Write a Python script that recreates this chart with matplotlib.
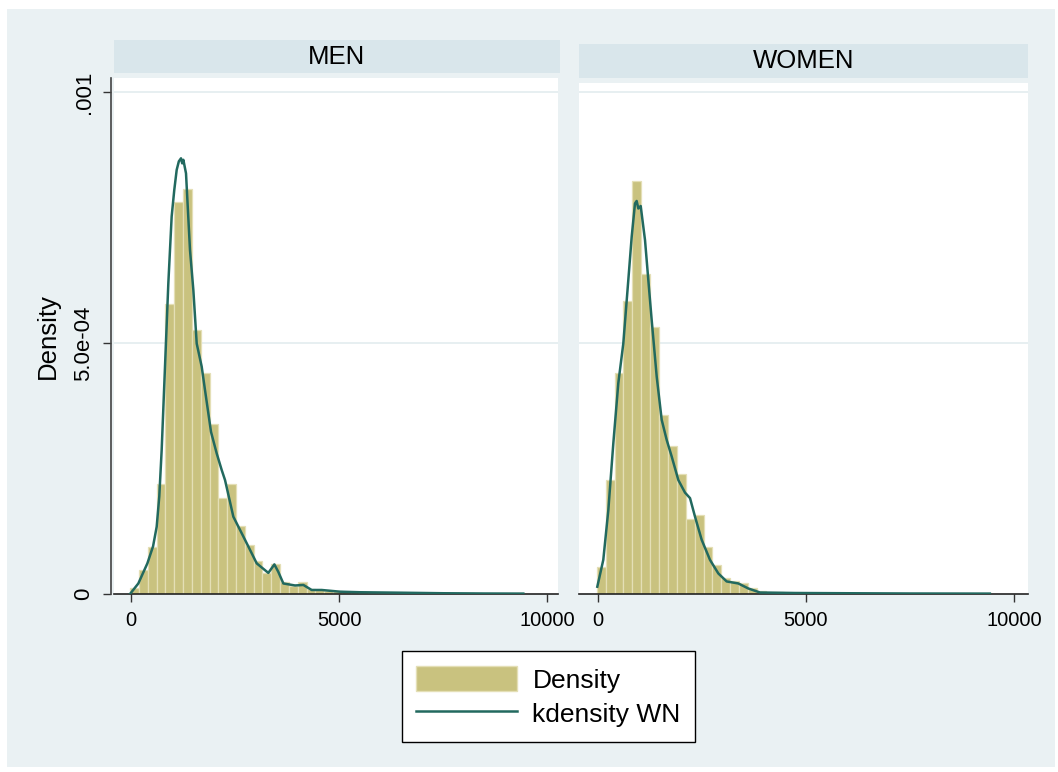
import matplotlib
matplotlib.use("Agg")
import matplotlib.pyplot as plt
from matplotlib.patches import Rectangle, Patch
from matplotlib.lines import Line2D
import numpy as np

plt.rcParams["font.family"] = ["Liberation Sans", "DejaVu Sans"]

# histogram bins
men_bin_start = -20
men_bin_width = 212
men_hist = [1.1e-5, 4.8e-5, 9.4e-5, 2.2e-4, 5.78e-4, 7.81e-4, 8.07e-4, 5.26e-4, 4.40e-4, 3.39e-4,
            1.92e-4, 2.20e-4, 1.35e-4, 9.7e-5, 6.6e-5, 4.1e-5, 6.0e-5, 2.3e-5, 1.5e-5, 2.3e-5,
            9e-6, 8e-6, 6e-6, 5e-6, 4e-6, 3e-6, 3e-6, 2e-6, 2e-6, 1e-6,
            1e-6, 1e-6, 0.5e-6, 1e-6, 0.5e-6, 1e-6, 1e-6, 0.5e-6, 1e-6, 0.5e-6,
            0.5e-6, 0.5e-6, 0.5e-6, 0.0, 0.5e-6]

women_bin_start = -30
women_bin_width = 214
women_hist = [5.44e-5, 2.27e-4, 4.40e-4, 5.84e-4, 8.23e-4, 6.37e-4, 5.31e-4, 3.57e-4, 2.95e-4, 2.40e-4,
              1.49e-4, 1.57e-4, 9.4e-5, 5.8e-5, 3.2e-5, 2.5e-5, 2.1e-5, 1.1e-5, 6e-6, 4e-6,
              3e-6, 2e-6, 2e-6, 1.5e-6, 1e-6, 1e-6, 0.5e-6, 0.5e-6, 1e-6, 0.5e-6,
              0.5e-6, 0.5e-6, 0.5e-6, 0.5e-6, 0.5e-6, 0.5e-6, 0.5e-6, 0.5e-6, 0.5e-6, 0.5e-6,
              0.5e-6, 0.5e-6, 0.5e-6, 0.5e-6, 0.0]

# kernel density curves
men_kde_x = [-24, 176, 393, 530, 617, 680, 737, 817, 897, 977, 1040, 1098, 1150, 1202, 1230, 1258,
             1322, 1418, 1498, 1579, 1699, 1779, 1923, 2060, 2180, 2260, 2460, 2740, 3022, 3301,
             3446, 3541, 3662, 3942, 4143, 4343, 4583, 5024, 5500, 6466, 7500, 8500, 9430]
men_kde_y = [0.0, 2.1e-5, 6.1e-5, 9.5e-5, 1.34e-4, 1.95e-4, 2.87e-4, 4.53e-4, 6.19e-4, 7.52e-4,
             8.05e-4, 8.45e-4, 8.62e-4, 8.68e-4, 8.58e-4, 8.65e-4, 8.38e-4, 6.85e-4, 6.06e-4,
             4.99e-4, 4.53e-4, 4.06e-4, 3.23e-4, 2.80e-4, 2.47e-4, 2.27e-4, 1.54e-4, 1.08e-4,
             6.1e-5, 4.2e-5, 5.9e-5, 4.4e-5, 2.1e-5, 1.7e-5, 1.8e-5, 8e-6, 8e-6, 4.6e-6,
             3.5e-6, 2.6e-6, 1.5e-6, 1e-6, 0.8e-6]

women_kde_x = [-17, 127, 248, 368, 488, 608, 728, 810, 889, 929, 969, 1026, 1130, 1210, 1290,
               1411, 1531, 1651, 1771, 1931, 2091, 2212, 2332, 2492, 2692, 2892, 3093, 3373,
               3613, 3894, 4736, 6000, 7500, 9420]
women_kde_y = [1.45e-5, 6.8e-5, 1.67e-4, 3.0e-4, 4.2e-4, 4.99e-4, 6.25e-4, 7.12e-4, 7.78e-4,
               7.83e-4, 7.68e-4, 7.73e-4, 7.05e-4, 6.25e-4, 5.46e-4, 4.33e-4, 3.47e-4, 3.07e-4,
               2.74e-4, 2.27e-4, 2.02e-4, 1.91e-4, 1.54e-4, 1.08e-4, 6.8e-5, 4.1e-5, 2.5e-5,
               2.1e-5, 1.1e-5, 3e-6, 2e-6, 1.5e-6, 1e-6, 0.8e-6]

panel_titles = ["MEN", "WOMEN"]
x_ticks = [0, 5000, 10000]
y_ticks = [0, 0.0005, 0.001]
y_ticklabels = ["0", "5.0e-04", ".001"]

BG = "#EAF1F3"
STRIP = "#D9E6EB"
BAR = "#C9C27F"
BAR_EDGE = "#E4DFB6"
LINE = "#22695F"
GRID = "#E3ECEF"

W, H = 1058, 772
fig = plt.figure(figsize=(W / 100, H / 100), dpi=100)
fig.patch.set_facecolor("white")
fig.patches.append(Rectangle((7 / W, 1 - 767 / H), 1048 / W, 758 / H,
                             transform=fig.transFigure, facecolor=BG, edgecolor="none", zorder=-10))


def px_rect(x0, y0, x1, y1):
    return [x0 / W, 1 - y1 / H, (x1 - x0) / W, (y1 - y0) / H]


panels = [
    dict(rect=px_rect(114, 78, 558, 594), strip=(114, 40, 560, 73), xlim=(-409, 10264),
         ylim=(0, 0.001028), start=men_bin_start, width=men_bin_width, hist=men_hist,
         kx=men_kde_x, ky=men_kde_y, left=True),
    dict(rect=px_rect(579, 83, 1028, 594), strip=(579, 44, 1028, 78), xlim=(-457, 10337),
         ylim=(0, 0.001018), start=women_bin_start, width=women_bin_width, hist=women_hist,
         kx=women_kde_x, ky=women_kde_y, left=False),
]

for title, p in zip(panel_titles, panels):
    ax = fig.add_axes(p["rect"])
    ax.set_facecolor("white")
    edges = p["start"] + p["width"] * np.arange(len(p["hist"]))
    ax.bar(edges, p["hist"], width=p["width"], align="edge", color=BAR,
           edgecolor=BAR_EDGE, linewidth=0.9, zorder=2)
    ax.plot(p["kx"], p["ky"], color=LINE, linewidth=1.8, zorder=3)
    ax.set_xlim(*p["xlim"])
    ax.set_ylim(*p["ylim"])
    for yv in y_ticks[1:]:
        ax.axhline(yv, color=GRID, linewidth=1.2, zorder=1)
    ax.set_xticks(x_ticks)
    ax.set_xticklabels([str(t) for t in x_ticks], fontsize=14.5)
    ax.tick_params(axis="x", length=6, width=1, pad=6, color="#333333")
    for s in ["top", "right"]:
        ax.spines[s].set_visible(False)
    ax.spines["bottom"].set_color("#222222")
    ax.spines["bottom"].set_linewidth(1.2)
    if p["left"]:
        ax.spines["left"].set_position(("outward", 2))
        ax.spines["left"].set_color("#444444")
        ax.spines["left"].set_linewidth(1.2)
        ax.set_yticks(y_ticks)
        ax.set_yticklabels(y_ticklabels, fontsize=16, rotation=90, va="center")
        ax.tick_params(axis="y", length=6, width=1, pad=6, color="#333333")
        ax.set_ylabel("Density", fontsize=18.5, labelpad=10)
    else:
        ax.spines["left"].set_visible(False)
        ax.set_yticks([])

    x0, y0, x1, y1 = p["strip"]
    fig.patches.append(Rectangle((x0 / W, 1 - y1 / H), (x1 - x0) / W, (y1 - y0) / H,
                                 transform=fig.transFigure, facecolor=STRIP, edgecolor="none"))
    fig.text((x0 + x1) / 2 / W, 1 - (y0 + y1) / 2 / H, title, ha="center", va="center",
             fontsize=18.5)

handles = [Patch(facecolor=BAR, edgecolor=BAR_EDGE), Line2D([], [], color=LINE, linewidth=1.8)]
leg = fig.legend(handles, ["Density", "kdensity WN"], loc="center",
                 bbox_to_anchor=(548.5 / W, 1 - 696.5 / H), fontsize=19, frameon=True,
                 fancybox=False, edgecolor="black", framealpha=1, handlelength=3.8,
                 handleheight=1.1, handletextpad=0.6, borderpad=0.55, labelspacing=0.3,
                 borderaxespad=0)
leg.get_frame().set_linewidth(1.0)

fig.savefig("out.png", dpi=100)
